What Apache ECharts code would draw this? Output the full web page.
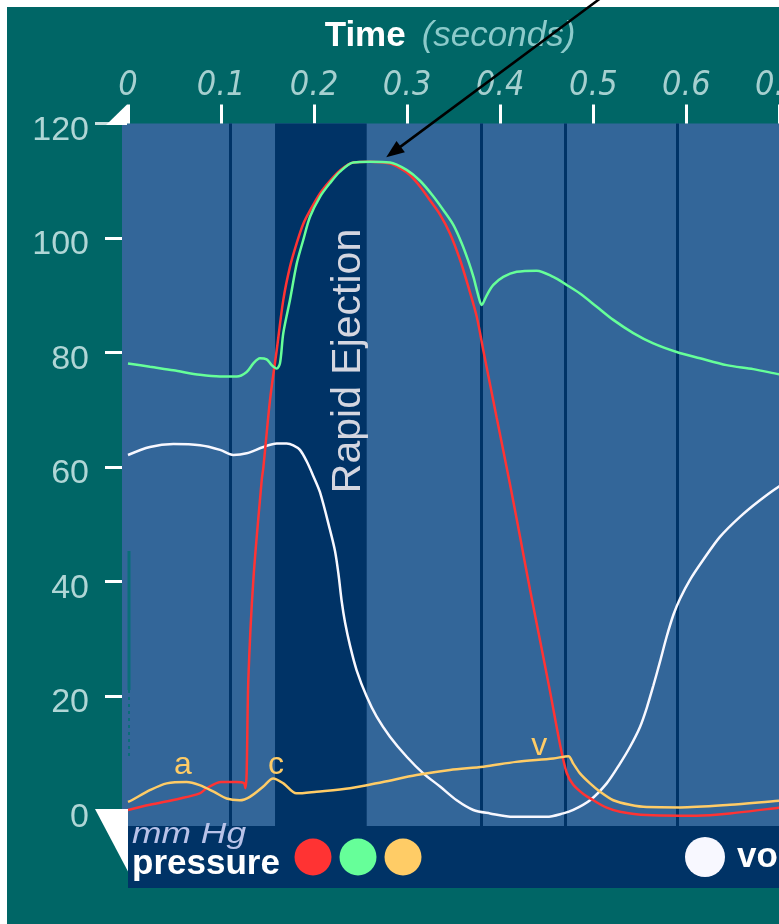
<!DOCTYPE html>
<html>
<head>
<meta charset="utf-8">
<script src="https://cdn.jsdelivr.net/npm/echarts@6/dist/echarts.min.js"></script>
<style>
  html, body { margin: 0; padding: 0; background: #ffffff; }
  #chart { width: 779px; height: 924px; }
</style>
</head>
<body>
<div id="chart"></div>
<script>
// Axis ticks: time in seconds, pressure in mm Hg
const timeTicks = [0, 0.1, 0.2, 0.3, 0.4, 0.5, 0.6, 0.7];
const pressureTicks = [0, 20, 40, 60, 80, 100, 120];

// Cardiac phase divider lines (s) and the highlighted rapid-ejection phase
const phaseDividers = [0.114, 0.382, 0.4703, 0.5896];
const rapidEjection = [0.158, 0.2565];
const rapidEjectionLabel = 'Rapid Ejection';

// Left ventricular pressure, [time s, mm Hg]
const lvPressure = [
  [0, 0.1], [0.0235, 1.0], [0.056, 2.1], [0.077, 3.0], [0.0846, 3.9], [0.1, 5.0],
  [0.1165, 5.0], [0.1245, 4.8], [0.1262, 3.9], [0.1275, 6.5], [0.1293, 22.8],
  [0.1347, 40.3], [0.1437, 57.7], [0.1455, 60.0], [0.1526, 71.7], [0.1598, 80.4],
  [0.1669, 89.2], [0.1741, 95.0], [0.1813, 99.1], [0.1884, 102.5], [0.1956, 104.8],
  [0.2063, 107.8], [0.2171, 110.0], [0.2278, 111.8], [0.2421, 113.2], [0.26, 113.3],
  [0.2815, 113.0], [0.2923, 112.2], [0.303, 111.0], [0.3138, 109.0], [0.3245, 106.6],
  [0.3353, 104.1], [0.346, 100.8], [0.3568, 96.2], [0.3657, 91.5], [0.3747, 86.3],
  [0.3818, 80.4], [0.3962, 68.6], [0.4105, 57.0], [0.4212, 47.9], [0.432, 38.6],
  [0.4427, 29.8], [0.4534, 20.9], [0.4642, 11.6], [0.4714, 6.6], [0.4785, 4.5],
  [0.4893, 2.9], [0.5, 1.8], [0.5144, 0.5], [0.5287, -0.2], [0.5574, -0.8],
  [0.5932, -0.9], [0.6111, -0.9], [0.6469, -0.5], [0.6995, 0.5], [0.72, 0.8]
];

// Aortic pressure, [time s, mm Hg]
const aorticPressure = [
  [0, 78.1], [0.0236, 77.5], [0.0487, 76.9], [0.0774, 76.1], [0.0989, 75.8],
  [0.1168, 75.8], [0.1275, 76.6], [0.1347, 78.1], [0.1418, 79.0], [0.149, 78.8],
  [0.1544, 77.8], [0.1598, 77.2], [0.1633, 78.1], [0.1669, 83.4], [0.1741, 89.2],
  [0.1813, 95.5], [0.1884, 99.7], [0.1956, 103.7], [0.2063, 107.2], [0.2171, 109.6],
  [0.2278, 111.6], [0.2421, 113.2], [0.26, 113.3], [0.2815, 113.2], [0.2994, 111.9],
  [0.3138, 110.0], [0.328, 107.3], [0.3388, 104.9], [0.3496, 102.3], [0.3586, 99.1],
  [0.3657, 96.0], [0.3712, 93.2], [0.3765, 89.9], [0.38, 88.3], [0.3855, 90.0],
  [0.3926, 91.8], [0.4033, 93.2], [0.4177, 94.1], [0.4392, 94.3], [0.457, 93.2],
  [0.4714, 91.8], [0.4857, 90.3], [0.5037, 88.0], [0.5215, 85.7], [0.543, 83.4],
  [0.5645, 81.6], [0.5896, 80.1], [0.6147, 79.0], [0.6433, 77.8], [0.672, 77.1],
  [0.6995, 76.2], [0.72, 75.6]
];

// Left atrial pressure, [time s, mm Hg]
const atrialPressure = [
  [0, 1.5], [0.004, 1.8], [0.024, 3.6], [0.0416, 4.75], [0.063, 5.0], [0.077, 4.45],
  [0.092, 3.3], [0.106, 2.1], [0.12, 1.8], [0.131, 2.4], [0.1454, 4.2], [0.156, 5.6],
  [0.167, 4.75], [0.181, 3.0], [0.2026, 3.3], [0.2386, 3.9], [0.274, 5.0], [0.31, 6.2],
  [0.346, 7.1], [0.382, 7.65], [0.417, 8.5], [0.457, 9.1], [0.4732, 9.5], [0.4785, 8.2],
  [0.4857, 6.5], [0.4965, 4.75], [0.5072, 3.3], [0.5215, 1.8], [0.5394, 1.0],
  [0.5574, 0.6], [0.593, 0.55], [0.647, 1.0], [0.6995, 1.7], [0.72, 1.9]
];

// Ventricular volume, drawn on the pressure scale
const volume = [
  [0, 62.1], [0.0236, 63.5], [0.0487, 64.0], [0.0774, 63.8], [0.0989, 63.0],
  [0.1132, 62.1], [0.1275, 62.4], [0.1455, 63.5], [0.1598, 64.1], [0.1705, 64.1],
  [0.1776, 63.8], [0.1848, 63.0], [0.192, 61.0], [0.1992, 58.4], [0.2063, 55.6],
  [0.2171, 49.0], [0.2225, 45.3], [0.2261, 41.4], [0.2296, 36.6], [0.2332, 32.9],
  [0.2386, 28.8], [0.2457, 24.5], [0.2565, 19.9], [0.2672, 16.4], [0.2815, 12.9],
  [0.2995, 9.4], [0.3173, 6.5], [0.3353, 4.2], [0.3532, 1.8], [0.3711, 0.1],
  [0.389, -0.5], [0.414, -1.1], [0.4499, -1.1], [0.4678, -0.5], [0.4785, 0.1],
  [0.4965, 1.8], [0.5144, 4.75], [0.5287, 8.2], [0.5394, 11.1], [0.5502, 14.6],
  [0.5574, 17.9], [0.5645, 21.8], [0.5717, 26.0], [0.5789, 30.4], [0.5861, 34.2],
  [0.5932, 37.0], [0.6039, 40.3], [0.6182, 43.8], [0.6361, 47.8], [0.6576, 51.3],
  [0.6791, 54.2], [0.6995, 56.6], [0.72, 58.5]
];

// Atrial pressure wave labels: [text, time s, mm Hg]
const waveLabels = [['a', 0.0591, 8.0], ['c', 0.159, 8.0], ['v', 0.442, 11.3]];

// Peak systolic pressure pointed at by the arrow
const peakPoint = [0.2775, 114.1];

const TEAL = '#006666';
const PLOT_BLUE = '#336699';
const DARK_BLUE = '#003366';
const COLORS = { lv: '#ff3333', aortic: '#66ff99', atrial: '#ffcc66', volume: '#f8f8ff' };
const FONT = "'Liberation Sans', sans-serif";

const chart = echarts.init(document.getElementById('chart'), null, { renderer: 'canvas' });

function curve(name, data, color, z) {
  return {
    name: name, type: 'line', data: data, color: color,
    showSymbol: false, smooth: 0.3, z: z,
    lineStyle: { color: color, width: 2.5 },
    emphasis: { disabled: true }, animation: false
  };
}

const option = {
  backgroundColor: TEAL,
  animation: false,
  grid: {
    left: 128, top: 123.5, width: 651.4, height: 702.5, show: false,
    outerBoundsMode: 'none', containLabel: false
  },
  xAxis: {
    type: 'value', position: 'top', min: 0, max: 0.7, interval: 0.1,
    axisLine: { show: false, onZero: false },
    splitLine: { show: false },
    axisTick: { show: true, length: 19, lineStyle: { color: '#ffffff', width: 3 } },
    axisLabel: {
      margin: 20, color: '#a6d0d0', showMinLabel: true, showMaxLabel: true,
      fontFamily: "'Liberation Sans Narrow', 'DejaVu Sans Condensed', sans-serif",
      fontStyle: 'italic', fontSize: 34
    }
  },
  yAxis: {
    type: 'value', min: -2.7, max: 120, offset: 6,
    axisLine: { show: false, onZero: false },
    splitLine: { show: false },
    axisTick: { show: true, customValues: pressureTicks, length: 17, lineStyle: { color: '#ffffff', width: 3 } },
    axisLabel: {
      customValues: pressureTicks, margin: 33, color: '#b0d6d6',
      fontFamily: FONT, fontSize: 34,
      verticalAlign: 'top', lineHeight: 14
    }
  },
  legend: [
    {
      data: ['LV pressure', 'aortic pressure', 'atrial pressure'],
      left: 294.5, top: 838.5, padding: 0, itemGap: 8, z: 20,
      itemWidth: 37, itemHeight: 37, icon: 'circle', selectedMode: false,
      formatter: function () { return ''; },
      textStyle: { fontSize: 1, padding: 0 }
    },
    {
      data: ['volume'],
      left: 685, top: 837, padding: 0, z: 20,
      itemWidth: 40, itemHeight: 40, icon: 'circle', selectedMode: false,
      textStyle: {
        color: '#ffffff', fontSize: 35, fontWeight: 'bold',
        fontFamily: FONT, padding: [16, 0, 0, 7]
      }
    }
  ],
  series: [
    {
      name: 'phases', type: 'line', data: [], z: 1, silent: true,
      markArea: {
        silent: true, z: 1,
        itemStyle: { color: DARK_BLUE, opacity: 1 },
        data: [[{ xAxis: rapidEjection[0] }, { xAxis: rapidEjection[1] }]]
      },
      markLine: {
        silent: true, z: 2, symbol: ['none', 'none'],
        label: { show: false },
        lineStyle: { color: DARK_BLUE, width: 3, type: 'solid' },
        data: phaseDividers.map(function (t) { return { xAxis: t }; })
      }
    },
    curve('volume', volume, COLORS.volume, 10),
    curve('LV pressure', lvPressure, COLORS.lv, 11),
    curve('aortic pressure', aorticPressure, COLORS.aortic, 12),
    curve('atrial pressure', atrialPressure, COLORS.atrial, 13)
  ]
};

chart.setOption(option);

// Decorations placed from axis coordinates
const px = function (t, p) { return chart.convertToPixel({ gridIndex: 0 }, [t, p]); };
const origin = px(0, 0);
const top120 = px(0, 120);
const bottomEdge = px(0, -2.7)[1];
const tip = px(peakPoint[0], peakPoint[1]);
const band = [px(rapidEjection[0], 0), px(rapidEjection[1], 0)];
const plotLeft = origin[0] - 6;

// Arrow direction (towards the upper right)
const ux = 0.803, uy = -0.596;
const nx = 0.596, ny = 0.803;
const headLen = 18, headHalf = 7;

const graphics = [
  // plot background, starting a little left of t = 0
  { type: 'rect', z: -1, shape: { x: plotLeft, y: top120[1], width: 779 - plotLeft, height: bottomEdge - top120[1] }, style: { fill: PLOT_BLUE } },
  // white page margins
  { type: 'rect', shape: { x: 0, y: 0, width: 779, height: 7 }, style: { fill: '#ffffff' }, z: 50 },
  { type: 'rect', shape: { x: 0, y: 0, width: 7, height: 924 }, style: { fill: '#ffffff' }, z: 50 },
  // title
  {
    type: 'text', x: 450, y: 36, z: 20,
    style: {
      text: '{b|Time}{i|(seconds)}', align: 'center', verticalAlign: 'middle',
      rich: {
        b: { fontSize: 35, fontWeight: 'bold', fill: '#ffffff', fontFamily: FONT },
        i: { fontSize: 35, fontStyle: 'italic', fill: '#8ccaca', fontFamily: FONT, padding: [0, 0, 0, 16] }
      }
    }
  },
  // rapid ejection phase name
  {
    type: 'text', x: (band[0][0] + band[1][0]) / 2 + 28, y: 361, rotation: Math.PI / 2, z: 8,
    style: {
      text: rapidEjectionLabel, align: 'center', verticalAlign: 'middle',
      fontSize: 41, fill: '#d4d6e0', fontFamily: FONT
    }
  },
  // legend panel
  { type: 'rect', shape: { x: origin[0], y: bottomEdge, width: 779 - origin[0], height: 62 }, style: { fill: DARK_BLUE }, z: 10 },
  {
    type: 'text', x: origin[0] + 4, y: 835, z: 11, scaleX: 1.18,
    style: {
      text: 'mm Hg', align: 'left', verticalAlign: 'middle', fontSize: 30, fontStyle: 'italic',
      fill: '#b8c2e8', fontFamily: FONT
    }
  },
  {
    type: 'text', x: origin[0] + 4, y: 864, z: 11,
    style: {
      text: 'pressure', align: 'left', verticalAlign: 'middle', fontSize: 35, fontWeight: 'bold',
      fill: '#ffffff', fontFamily: FONT
    }
  },
  // slider handles at 120 and 0
  { type: 'rect', shape: { x: 95, y: top120[1] - 1.5, width: top120[0] - 96, height: 3 }, style: { fill: '#c8dede' }, z: 12 },
  {
    type: 'polygon', z: 12,
    shape: { points: [[top120[0] - 1, top120[1] + 1.5], [top120[0] - 1, top120[1] - 19], [top120[0] - 22, top120[1] + 1.5]] },
    style: { fill: '#ffffff' }
  },
  {
    type: 'polygon', z: 12,
    shape: { points: [[95, origin[1] - 1.5], [origin[0], origin[1] - 1.5], [origin[0], origin[1] + 61]] },
    style: { fill: '#ffffff' }
  },
  // faint time cursor near the origin
  { type: 'line', z: 3, shape: { x1: origin[0] + 1, y1: 551, x2: origin[0] + 1, y2: 690 }, style: { stroke: '#0a6e78', lineWidth: 3 } },
  { type: 'line', z: 3, shape: { x1: origin[0] + 1, y1: 690, x2: origin[0] + 1, y2: 760 }, style: { stroke: '#0a6e78', lineWidth: 2, lineDash: [3, 4] } }
].concat(waveLabels.map(function (w) {
  const p = px(w[1], w[2]);
  return {
    type: 'text', x: p[0], y: p[1], z: 9,
    style: {
      text: w[0], align: 'center', verticalAlign: 'middle', fontSize: 32,
      fill: COLORS.atrial, fontFamily: FONT
    }
  };
})).concat([
  // arrow to peak pressure
  {
    type: 'line', z: 60,
    shape: { x1: tip[0] + ux * 12, y1: tip[1] + uy * 12, x2: tip[0] + ux * 320, y2: tip[1] + uy * 320 },
    style: { stroke: '#000000', lineWidth: 2.5 }
  },
  {
    type: 'polygon', z: 60,
    shape: {
      points: [
        [tip[0], tip[1]],
        [tip[0] + ux * headLen + nx * headHalf, tip[1] + uy * headLen + ny * headHalf],
        [tip[0] + ux * headLen - nx * headHalf, tip[1] + uy * headLen - ny * headHalf]
      ]
    },
    style: { fill: '#000000' }
  }
]);

chart.setOption({ graphic: graphics });
</script>
</body>
</html>
